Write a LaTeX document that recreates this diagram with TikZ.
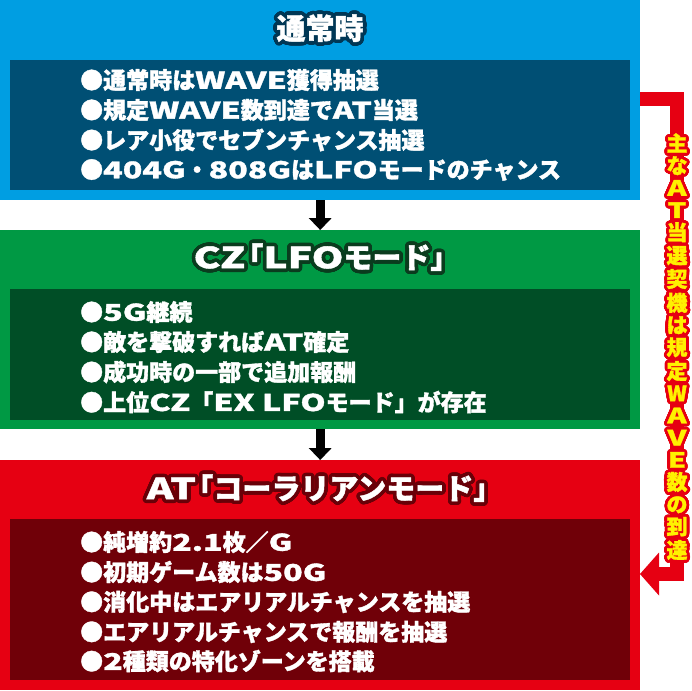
\documentclass[tikz,border=0pt]{standalone}
\usepackage{fontspec}
\setmainfont{Noto Sans CJK JP}[BoldFeatures={FakeBold=1.5}]
\newfontfamily\latfont{Noto Sans CJK JP}[FakeStretch=1.4, BoldFeatures={FakeBold=1.5}]
\usepackage{contour}
\contournumber{32}
\usetikzlibrary{arrows.meta}
\definecolor{boxblue}{RGB}{0,158,226}
\definecolor{innerblue}{RGB}{0,79,116}
\definecolor{outblue}{RGB}{0,55,85}
\definecolor{boxgreen}{RGB}{0,153,68}
\definecolor{innergreen}{RGB}{0,78,38}
\definecolor{outgreen}{RGB}{10,60,30}
\definecolor{boxred}{RGB}{230,0,18}
\definecolor{innerred}{RGB}{112,0,8}
\definecolor{outred}{RGB}{105,0,8}
\definecolor{vtyellow}{RGB}{255,241,0}
\newcommand\lw[1]{{\latfont #1}}
\newcommand\vt[1]{\contour{boxred}{#1}}
\tikzset{
  panel/.style={fill=#1, draw=none, inner sep=0, anchor=north west, minimum width=640pt},
  innerpanel/.style={fill=#1, draw=none, inner sep=0, anchor=north west, minimum width=620pt},
  titletext/.style={inner sep=0, text=white, font=\bfseries\fontsize{29}{29}\selectfont},
  bodytext/.style={inner sep=0, anchor=west, text=white, font=\bfseries\fontsize{23}{23}\selectfont},
  flowarrow/.style={draw=black, line width=9pt, -{Triangle[width=23pt,length=12pt,line width=0pt]}},
  bracketarrow/.style={draw=boxred, line width=14pt, line join=miter, -{Triangle[width=43pt,length=19pt,line width=0pt]}},
  vlabel/.style={inner sep=0, align=center, text=vtyellow, font=\bfseries\fontsize{21}{22.2}\selectfont}
}
\begin{document}
\begin{tikzpicture}[x=1pt,y=-1pt]
\useasboundingbox (0,0) rectangle (692,690);
% panels
\node[panel=boxblue, minimum height=200pt] (blue) at (0,0) {};
\node[innerpanel=innerblue, minimum height=130pt] (blueinner) at (10,60) {};
\node[panel=boxgreen, minimum height=199pt] (green) at (0,230) {};
\node[innerpanel=innergreen, minimum height=131pt] (greeninner) at (10,289) {};
\node[panel=boxred, minimum height=230pt] (red) at (0,460) {};
\node[innerpanel=innerred, minimum height=161pt] (redinner) at (10,519) {};
% titles
\contourlength{3.6pt}
\node[titletext] (t1) at (320,30) {\contour{outblue}{通常時}};
\node[titletext] (t2) at (320,259) {\contour{outgreen}{\lw{CZ}\kern-.38em「\lw{LFO}モード」\kern-.45em}};
\node[titletext] (t3) at (318,490) {\contour{outred}{\lw{AT}\kern-.4em「コーラリアンモード」\kern-.45em}};
% body: normal
\node[bodytext] (b1) at (80,80) {●通常時は\lw{WAVE}獲得抽選};
\node[bodytext] (b2) at (80,110) {●規定\lw{WAVE}数到達で\lw{AT}当選};
\node[bodytext] (b3) at (80,140) {●レア小役でセブンチャンス抽選};
\node[bodytext] (b4) at (80,170) {●\lw{404G}・\lw{808G}は\lw{LFO}モードのチャンス};
% body: CZ
\node[bodytext] (g1) at (80,312) {●\lw{5G}継続};
\node[bodytext] (g2) at (80,342) {●敵を撃破すれば\lw{AT}確定};
\node[bodytext] (g3) at (80,372) {●成功時の一部で追加報酬};
\node[bodytext] (g4) at (80,402) {●上位\lw{CZ}「\lw{EX LFO}モード」が存在};
% body: AT
\node[bodytext] (r1) at (80,542) {●純増約\lw{2.1}枚／\lw{G}};
\node[bodytext] (r2) at (80,572) {●初期ゲーム数は\lw{50G}};
\node[bodytext] (r3) at (80,602) {●消化中はエアリアルチャンスを抽選};
\node[bodytext] (r4) at (80,632) {●エアリアルチャンスで報酬を抽選};
\node[bodytext] (r5) at (80,661) {●\lw{2}種類の特化ゾーンを搭載};
% flow arrows
\draw[flowarrow] (blue.south) -- (green.north);
\draw[flowarrow] (green.south) -- (red.north);
% bracket
\coordinate (bs) at (640,99);
\coordinate (be) at (640,574);
\draw[bracketarrow] (bs) -- ++(37,0) |- (be);
\contourlength{2.8pt}
\node[vlabel] (vl) at (677,348) {\vt{主}\\\vt{な}\\\vt{\lw{A}}\\\vt{\lw{T}}\\\vt{当}\\\vt{選}\\\vt{契}\\\vt{機}\\\vt{は}\\\vt{規}\\\vt{定}\\\vt{W}\\\vt{\lw{A}}\\\vt{\lw{V}}\\\vt{\lw{E}}\\\vt{数}\\\vt{の}\\\vt{到}\\\vt{達}};
\end{tikzpicture}
\end{document}
